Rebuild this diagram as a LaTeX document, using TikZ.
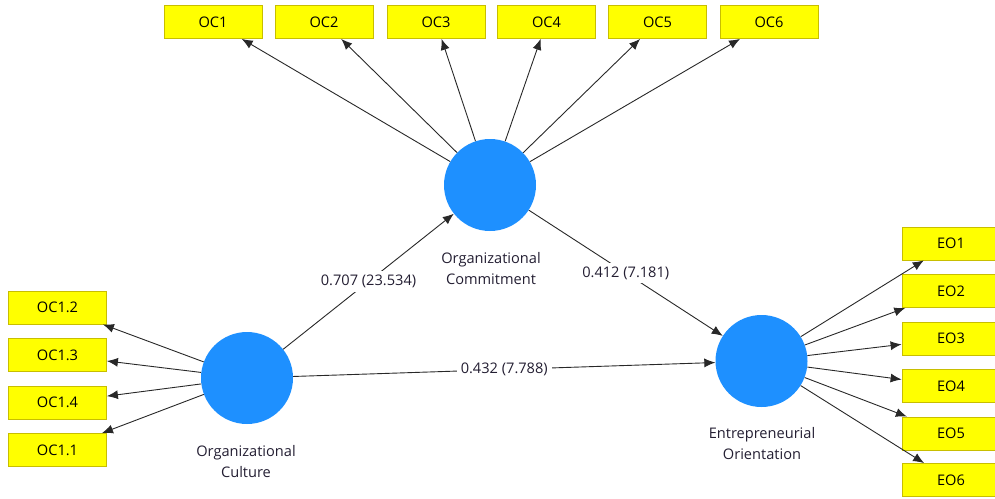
\documentclass[tikz,border=0pt]{standalone}
\usepackage{fontspec}
\setmainfont{Open Sans}
\usetikzlibrary{arrows.meta}
\definecolor{boxyellow}{RGB}{255,255,0}
\definecolor{boxborder}{RGB}{200,190,0}
\definecolor{lvblue}{RGB}{30,144,255}
\definecolor{lineclr}{RGB}{40,40,40}
\definecolor{txtclr}{RGB}{35,30,50}
\begin{document}
\begin{tikzpicture}[x=1pt,y=-1pt,
  every node/.style={font=\fontsize{14.6}{21}\selectfont, text=txtclr},
  indbox/.style={draw=boxborder, fill=boxyellow, line width=0.8pt, minimum width=98pt, minimum height=33pt, inner sep=0pt, text=black},
  latent/.style={circle, fill=lvblue, minimum size=92pt, inner sep=0pt},
  conn/.style={draw=lineclr, line width=0.9pt, -{Latex[length=11pt,width=9pt]}},
  coef/.style={fill=white, inner sep=4pt, midway}
]
\useasboundingbox (0,0) rectangle (995,498);
% latent variables
\node[latent] (cult) at (247,378) {};
\node[latent] (comm) at (490,185) {};
\node[latent] (eo) at (761.5,361) {};
\node[align=center] (cultlab) at (246,461.5) {Organizational\\Culture};
\node[align=center] (commlab) at (491,268.5) {Organizational\\Commitment};
\node[align=center] (eolab) at (762,444) {Entrepreneurial\\Orientation};
% top indicators
\node[indbox] (oc1) at (213,22) {OC1};
\node[indbox] (oc2) at (324,22) {OC2};
\node[indbox] (oc3) at (436,22) {OC3};
\node[indbox] (oc4) at (546.5,22) {OC4};
\node[indbox] (oc5) at (657.5,22) {OC5};
\node[indbox] (oc6) at (769,22) {OC6};
% left indicators
\node[indbox] (oc12) at (57.5,307.5) {OC1.2};
\node[indbox] (oc13) at (57.5,355) {OC1.3};
\node[indbox] (oc14) at (57.5,402.5) {OC1.4};
\node[indbox] (oc11) at (57.5,450) {OC1.1};
% right indicators
\node[indbox] (eo1) at (951,243.5) {EO1};
\node[indbox] (eo2) at (951,291) {EO2};
\node[indbox] (eo3) at (951,338.5) {EO3};
\node[indbox] (eo4) at (951,386) {EO4};
\node[indbox] (eo5) at (951,433.5) {EO5};
\node[indbox] (eo6) at (951,480) {EO6};
% outer loadings
\foreach \t in {oc1,oc2,oc3,oc4,oc5,oc6} \draw[conn] (comm) -- (\t);
\foreach \t in {oc12,oc13,oc14,oc11} \draw[conn] (cult) -- (\t);
\foreach \t in {eo1,eo2,eo3,eo4,eo5,eo6} \draw[conn] (eo) -- (\t);
% structural paths
\draw[conn] (cult) -- node[coef] {0.707 (23.534)} (comm);
\draw[conn] (comm) -- node[coef] {0.412 (7.181)} (eo);
\draw[conn] (cult) -- node[coef] {0.432 (7.788)} (eo);
\end{tikzpicture}
\end{document}
